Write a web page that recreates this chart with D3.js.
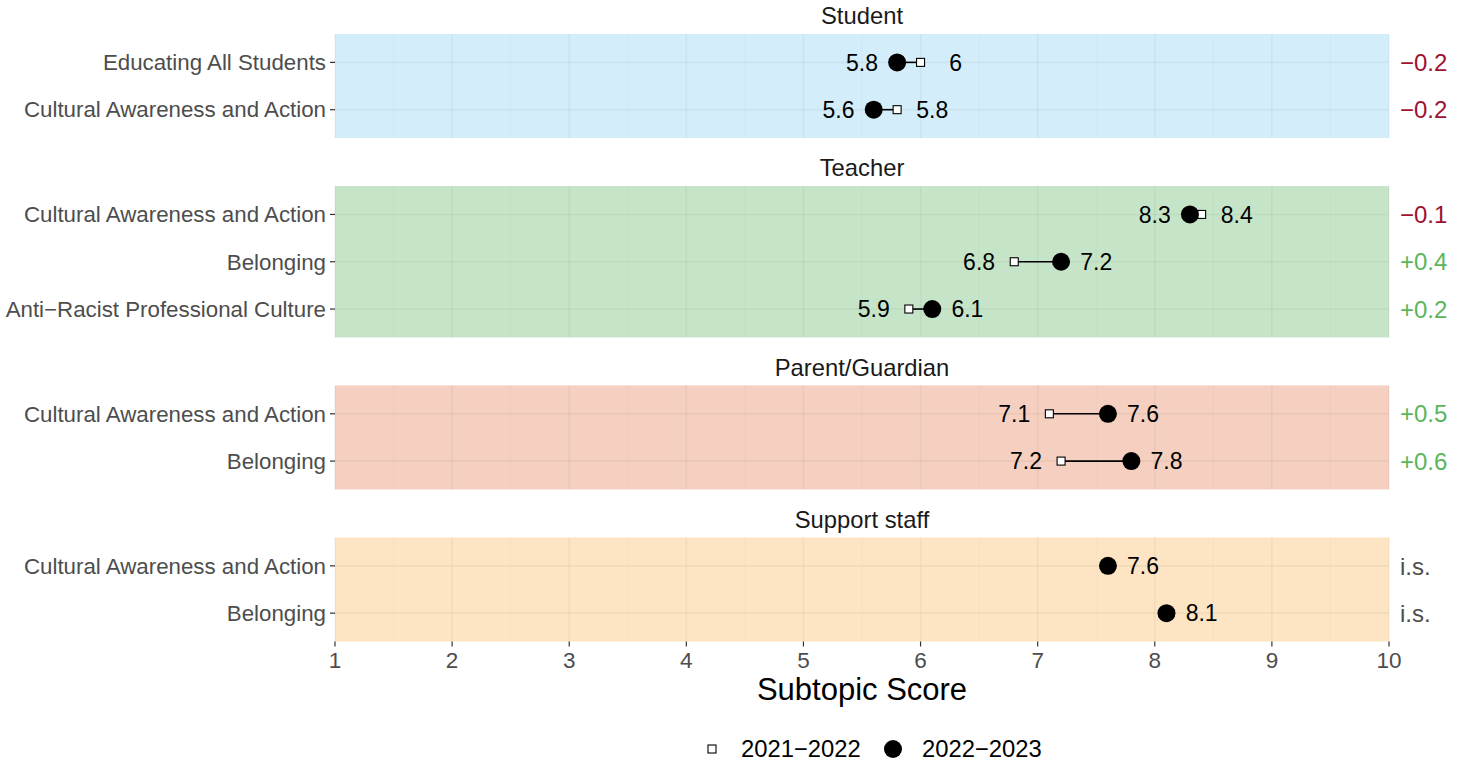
<!DOCTYPE html>
<html lang="en">
<head>
<meta charset="utf-8">
<title>Subtopic Score</title>
<script src="https://d3js.org/d3.v7.min.js"></script>
<style>
  body { margin: 0; background: #fff; }
  text { font-family: "Liberation Sans", Arial, Helvetica, sans-serif; }
</style>
</head>
<body>
<div id="chart"></div>
<script>
// data
const groups = ["Student", "Teacher", "Parent/Guardian", "Support staff"];
const groupOf = ["Student", "Student", "Teacher", "Teacher", "Teacher",
                 "Parent/Guardian", "Parent/Guardian", "Support staff", "Support staff"];
const subtopics = ["Educating All Students", "Cultural Awareness and Action",
                   "Cultural Awareness and Action", "Belonging", "Anti\u2212Racist Professional Culture",
                   "Cultural Awareness and Action", "Belonging",
                   "Cultural Awareness and Action", "Belonging"];
const score2122 = [6, 5.8, 8.4, 6.8, 5.9, 7.1, 7.2, null, null];
const score2223 = [5.8, 5.6, 8.3, 7.2, 6.1, 7.6, 7.8, 7.6, 8.1];
const xTicks = [1, 2, 3, 4, 5, 6, 7, 8, 9, 10];
const seriesNames = ["2021\u22122022", "2022\u22122023"];

const panelBg = {
  "Student": "#d3eefa",
  "Teacher": "#c6e5c8",
  "Parent/Guardian": "#f5d0c0",
  "Support staff": "#fde5c3"
};

const W = 1466, H = 761;
const left = 335, right = 1389;
const step = 47.3, gap = 48, top0 = 34;

const svg = d3.select("#chart").append("svg")
  .attr("width", W).attr("height", H);

const x = d3.scaleLinear().domain([1, 10]).range([left, right]);

const rows = subtopics.map((s, i) => ({
  i, group: groupOf[i], label: s, old: score2122[i], now: score2223[i]
}));

const fmt = v => String(+v.toFixed(1));
const nudge = 0.3;

let panelTop = top0;
let lastBottom = 0;
groups.forEach(g => {
  const gr = rows.filter(r => r.group === g);
  const h = (gr.length - 1 + 1.2) * step;
  const y = d3.scalePoint().domain(gr.map(r => r.i)).range([panelTop, panelTop + h]).padding(0.6);
  const p = svg.append("g");

  // strip
  p.append("text").attr("x", (left + right) / 2).attr("y", panelTop - 18)
    .attr("text-anchor", "middle").attr("dy", "0.35em")
    .attr("font-size", 23.8).attr("fill", "#1a1a1a").text(g);

  p.append("rect").attr("x", left).attr("y", panelTop)
    .attr("width", right - left).attr("height", h).attr("fill", panelBg[g]);

  // minor + major grid
  const minor = d3.range(1.5, 10, 1);
  p.selectAll(".gmin").data(minor).join("line")
    .attr("x1", d => x(d)).attr("x2", d => x(d))
    .attr("y1", panelTop).attr("y2", panelTop + h)
    .attr("stroke", "rgba(0,0,0,0.025)").attr("stroke-width", 1);
  p.selectAll(".gmaj").data(xTicks).join("line")
    .attr("x1", d => x(d)).attr("x2", d => x(d))
    .attr("y1", panelTop).attr("y2", panelTop + h)
    .attr("stroke", "rgba(0,0,0,0.045)").attr("stroke-width", 1.6);
  p.selectAll(".gy").data(gr).join("line")
    .attr("x1", left).attr("x2", right)
    .attr("y1", r => y(r.i)).attr("y2", r => y(r.i))
    .attr("stroke", "rgba(0,0,0,0.045)").attr("stroke-width", 1.6);

  // y axis labels + ticks
  p.selectAll(".yl").data(gr).join("text")
    .attr("x", left - 9).attr("y", r => y(r.i)).attr("dy", "0.35em")
    .attr("text-anchor", "end").attr("font-size", 22.3).attr("fill", "#4d4d4d")
    .text(r => r.label);
  p.selectAll(".yt").data(gr).join("line")
    .attr("x1", left - 5).attr("x2", left)
    .attr("y1", r => y(r.i)).attr("y2", r => y(r.i))
    .attr("stroke", "#333").attr("stroke-width", 1.2);

  // segments
  p.selectAll(".seg").data(gr.filter(r => r.old != null)).join("line")
    .attr("x1", r => x(r.old)).attr("x2", r => x(r.now))
    .attr("y1", r => y(r.i)).attr("y2", r => y(r.i))
    .attr("stroke", "#000").attr("stroke-width", 1.6);

  // 2021-2022 squares
  p.selectAll(".sq").data(gr.filter(r => r.old != null)).join("rect")
    .attr("x", r => x(r.old) - 4).attr("y", r => y(r.i) - 4)
    .attr("width", 8).attr("height", 8)
    .attr("fill", "#fff").attr("stroke", "#000").attr("stroke-width", 1.1);

  // 2022-2023 dots
  p.selectAll(".dot").data(gr).join("circle")
    .attr("cx", r => x(r.now)).attr("cy", r => y(r.i)).attr("r", 9)
    .attr("fill", "#000");

  // value labels
  const dir = r => (r.old == null || r.now >= r.old) ? 1 : -1;
  p.selectAll(".vn").data(gr).join("text")
    .attr("x", r => x(r.now + dir(r) * nudge)).attr("y", r => y(r.i)).attr("dy", "0.36em")
    .attr("text-anchor", "middle").attr("font-size", 23).attr("fill", "#000")
    .text(r => fmt(r.now));
  p.selectAll(".vo").data(gr.filter(r => r.old != null)).join("text")
    .attr("x", r => x(r.old - dir(r) * nudge)).attr("y", r => y(r.i)).attr("dy", "0.36em")
    .attr("text-anchor", "middle").attr("font-size", 23).attr("fill", "#000")
    .text(r => fmt(r.old));

  // difference labels
  p.selectAll(".df").data(gr).join("text")
    .attr("x", right + 11).attr("y", r => y(r.i)).attr("dy", "0.36em")
    .attr("font-size", 24)
    .attr("fill", r => r.old == null ? "#4d4d4d" : (r.now - r.old < 0 ? "#a0102f" : "#5cb55c"))
    .text(r => {
      if (r.old == null) return "i.s.";
      const d = +(r.now - r.old).toFixed(1);
      return (d < 0 ? "\u2212" : "+") + Math.abs(d).toFixed(1);
    });

  lastBottom = panelTop + h;
  panelTop = panelTop + h + gap;
});

// x axis
const xa = svg.append("g");
xa.selectAll("line").data(xTicks).join("line")
  .attr("x1", d => x(d)).attr("x2", d => x(d))
  .attr("y1", lastBottom).attr("y2", lastBottom + 5)
  .attr("stroke", "#333").attr("stroke-width", 1.2);
xa.selectAll("text").data(xTicks).join("text")
  .attr("x", d => x(d)).attr("y", lastBottom + 19).attr("dy", "0.35em")
  .attr("text-anchor", "middle").attr("font-size", 22.5).attr("fill", "#4d4d4d")
  .text(d => d);
svg.append("text").attr("x", (left + right) / 2).attr("y", lastBottom + 48)
  .attr("dy", "0.35em").attr("text-anchor", "middle")
  .attr("font-size", 31).attr("fill", "#000").text("Subtopic Score");

// legend
const lg = svg.append("g");
lg.append("rect").attr("x", 708).attr("y", 745).attr("width", 8).attr("height", 8)
  .attr("fill", "#fff").attr("stroke", "#000").attr("stroke-width", 1.1);
lg.append("text").attr("x", 741).attr("y", 749).attr("dy", "0.35em")
  .attr("font-size", 23.8).text(seriesNames[0]);
lg.append("circle").attr("cx", 893).attr("cy", 749).attr("r", 9).attr("fill", "#000");
lg.append("text").attr("x", 922).attr("y", 749).attr("dy", "0.35em")
  .attr("font-size", 23.8).text(seriesNames[1]);
</script>
</body>
</html>
